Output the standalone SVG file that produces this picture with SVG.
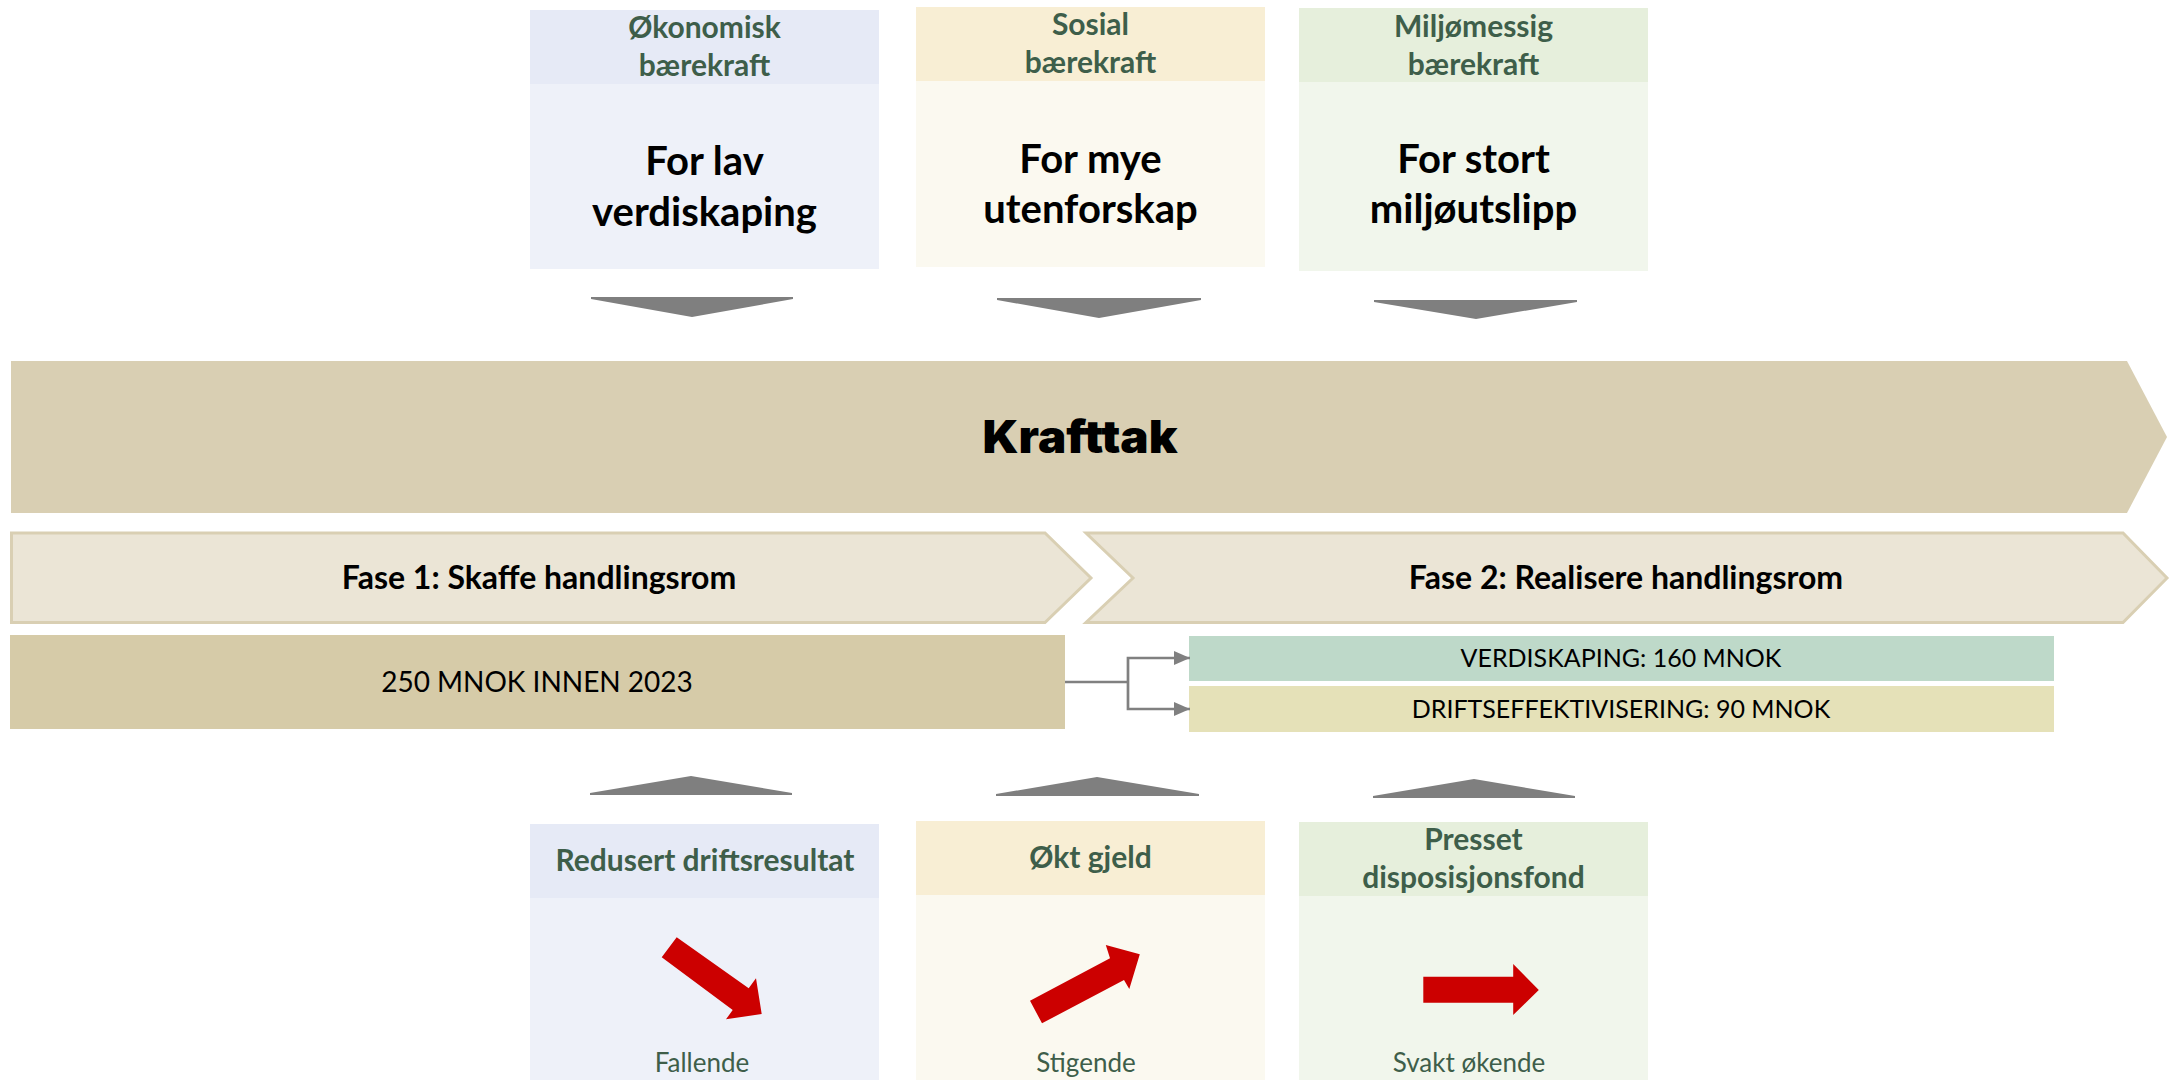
<svg xmlns="http://www.w3.org/2000/svg" width="2172" height="1080" viewBox="0 0 2172 1080">
<defs>
<style>
.hdr{font-family:Lato,"Liberation Sans",sans-serif;font-weight:bold;font-size:30px;fill:#3e5e4a;text-anchor:middle}
.big{font-family:Lato,"Liberation Sans",sans-serif;font-weight:bold;font-size:40px;fill:#000;text-anchor:middle}
.fase{font-family:Lato,"Liberation Sans",sans-serif;font-weight:bold;font-size:32px;fill:#000;text-anchor:middle}
.val{font-family:Lato,"Liberation Sans",sans-serif;font-size:28px;fill:#000;text-anchor:middle}
.sub{font-family:Lato,"Liberation Sans",sans-serif;font-size:25px;fill:#000;text-anchor:middle}
.trend{font-family:Lato,"Liberation Sans",sans-serif;font-size:26px;fill:#3e5e4a;text-anchor:middle}
.gray{fill:#7f7f7f}
.red{fill:#cc0000}
.conn{fill:none;stroke:#808080;stroke-width:2.7}
</style>
<marker id="ah" markerWidth="16" markerHeight="14" refX="16" refY="7" orient="auto" markerUnits="userSpaceOnUse">
<path d="M0,0 L16,7 L0,14 Z" fill="#808080"/>
</marker>
</defs>
<rect width="2172" height="1080" fill="#ffffff"/>

<g id="top-okonomisk">
<rect x="530" y="10" width="349" height="259" fill="#eef1f9"/>
<rect x="530" y="10" width="349" height="74" fill="#e6eaf6"/>
<text class="hdr" x="704.5" y="38">Økonomisk</text>
<text class="hdr" x="704.5" y="76">bærekraft</text>
<text class="big" x="704.5" y="175">For lav</text>
<text class="big" x="704.5" y="226">verdiskaping</text>
</g>
<g id="top-sosial">
<rect x="916" y="7" width="349" height="260" fill="#fbf9f0"/>
<rect x="916" y="7" width="349" height="74" fill="#f8eed4"/>
<text class="hdr" x="1090.5" y="35">Sosial</text>
<text class="hdr" x="1090.5" y="73">bærekraft</text>
<text class="big" x="1090.5" y="173">For mye</text>
<text class="big" x="1090.5" y="223">utenforskap</text>
</g>
<g id="top-miljo">
<rect x="1299" y="8" width="349" height="263" fill="#f1f6ec"/>
<rect x="1299" y="8" width="349" height="74" fill="#e6efdc"/>
<text class="hdr" x="1473.5" y="37">Miljømessig</text>
<text class="hdr" x="1473.5" y="75">bærekraft</text>
<text class="big" x="1473.5" y="173">For stort</text>
<text class="big" x="1473.5" y="223">miljøutslipp</text>
</g>

<g id="down-arrows">
<polygon class="gray" points="591,297 793,297 793,299 692,317 591,299"/>
<polygon class="gray" points="997,298 1201,298 1201,300 1099,318 997,300"/>
<polygon class="gray" points="1374,300 1577,300 1577,302 1476,319 1374,302"/>
</g>

<g id="krafttak">
<polygon points="11,361 2127,361 2167,437 2127,513 11,513" fill="#d9cfb3"/>
<text x="1080" y="453" font-family="Inter,Roboto,'Liberation Sans',sans-serif" font-weight="900" font-size="45" text-anchor="middle" textLength="195" lengthAdjust="spacingAndGlyphs" fill="#000">Krafttak</text>
</g>

<g id="fase1">
<polygon points="11.5,533 1045,533 1091,578 1045,622.5 11.5,622.5" fill="#ebe5d6" stroke="#d9cfb3" stroke-width="3"/>
<text class="fase" x="539" y="589">Fase 1: Skaffe handlingsrom</text>
</g>
<g id="fase2">
<polygon points="1086,533 2123,533 2167,578 2123,622.5 1086,622.5 1133,578" fill="#ebe5d6" stroke="#d9cfb3" stroke-width="3"/>
<text class="fase" x="1626" y="589">Fase 2: Realisere handlingsrom</text>
</g>

<g id="mnok250">
<rect x="10" y="635" width="1055" height="94" fill="#d6cba8"/>
<text class="val" x="537" y="692">250 MNOK INNEN 2023</text>
</g>
<g id="verdiskaping">
<rect x="1189" y="636" width="865" height="45" fill="#bed9c9"/>
<text class="sub" x="1621" y="667">VERDISKAPING: 160 MNOK</text>
</g>
<g id="drift">
<rect x="1189" y="686" width="865" height="46" fill="#e5e1b8"/>
<text class="sub" x="1621" y="718">DRIFTSEFFEKTIVISERING: 90 MNOK</text>
</g>

<g id="connectors">
<path class="conn" d="M1065,682 H1128"/>
<path class="conn" d="M1128,682 V658 H1190" marker-end="url(#ah)"/>
<path class="conn" d="M1128,682 V709 H1190" marker-end="url(#ah)"/>
</g>

<g id="up-arrows">
<polygon class="gray" points="590,795 590,793 691,776 792,793 792,795"/>
<polygon class="gray" points="996,796 996,794 1097,777 1199,794 1199,796"/>
<polygon class="gray" points="1373,798 1373,796 1474,779 1575,796 1575,798"/>
</g>

<g id="bottom-drift">
<rect x="530" y="824" width="349" height="256" fill="#eef1f9"/>
<rect x="530" y="824" width="349" height="74" fill="#e6eaf6"/>
<text class="hdr" x="705" y="871">Redusert driftsresultat</text>
<polygon class="red" points="676.7,937.3 661.7,957.3 732.7,1010 726,1019.3 761.7,1014 756,978.3 748.7,988.3"/>
<text class="trend" x="702" y="1072">Fallende</text>
</g>
<g id="bottom-gjeld">
<rect x="916" y="821" width="349" height="259" fill="#fbf9f0"/>
<rect x="916" y="821" width="349" height="74" fill="#f8eed4"/>
<text class="hdr" x="1090.5" y="868">Økt gjeld</text>
<polygon class="red" points="1030,1000.7 1110,958.3 1105.8,945 1139.8,954.3 1129.3,989 1124,980 1042,1023.3"/>
<text class="trend" x="1086" y="1072">Stigende</text>
</g>
<g id="bottom-fond">
<rect x="1299" y="822" width="349" height="258" fill="#f1f6ec"/>
<rect x="1299" y="822" width="349" height="74" fill="#e6efdc"/>
<text class="hdr" x="1473.5" y="850">Presset</text>
<text class="hdr" x="1473.5" y="888">disposisjonsfond</text>
<polygon class="red" points="1423.3,976.7 1513.2,976.7 1513.2,964 1538.8,990 1513.2,1015 1513.2,1002.7 1423.3,1002.7"/>
<text class="trend" x="1469" y="1072">Svakt økende</text>
</g>
</svg>
